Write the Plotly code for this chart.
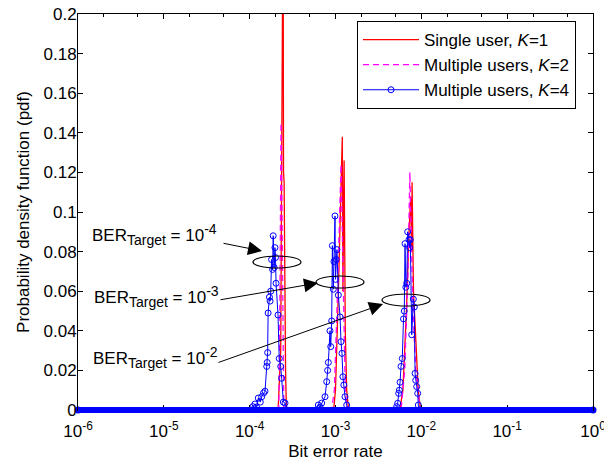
import math
import plotly.graph_objects as go

# ---------------- data ----------------
ber_k4 = [1.05e-4, 1.09e-4, 1.15e-4, 1.20e-4, 1.26e-4, 1.33e-4, 1.38e-4, 1.45e-4, 1.51e-4, 1.58e-4,
          1.60e-4, 1.62e-4, 1.64e-4, 1.70e-4, 1.73e-4, 1.76e-4, 1.80e-4, 1.85e-4, 1.88e-4, 1.93e-4,
          1.97e-4, 2.00e-4, 2.03e-4, 2.14e-4, 2.21e-4, 2.30e-4, 2.36e-4, 2.47e-4, 2.58e-4, 2.72e-4,
          6.0e-4, 6.31e-4, 6.6e-4, 6.9e-4, 7.55e-4, 7.9e-4, 8.1e-4, 8.25e-4, 8.63e-4, 8.8e-4,
          9.03e-4, 9.2e-4, 9.43e-4, 9.6e-4, 9.87e-4, 1.0e-3, 1.02e-3, 1.04e-3, 1.08e-3, 1.13e-3,
          1.16e-3, 1.19e-3, 1.22e-3, 1.25e-3, 1.29e-3, 1.35e-3, 1.40e-3,
          4.9e-3, 5.16e-3, 5.3e-3, 5.45e-3, 5.55e-3, 5.65e-3, 5.8e-3, 6.0e-3, 6.2e-3, 6.33e-3,
          6.46e-3, 6.6e-3, 6.76e-3, 6.93e-3, 7.18e-3, 7.3e-3, 7.44e-3, 7.73e-3, 8.07e-3, 8.28e-3,
          8.45e-3, 8.6e-3, 8.83e-3, 9.07e-3, 9.22e-3, 9.5e-3]
pdf_k4 = [0.0, 0.0017, 0.003, 0.0015, 0.006, 0.004, 0.0067, 0.0086, 0.0095, 0.022,
          0.024, 0.029, 0.049, 0.057, 0.055, 0.060, 0.076, 0.071, 0.088, 0.072,
          0.082, 0.077, 0.064, 0.048, 0.026, 0.022, 0.016, 0.004, 0.0035, 0.0,
          0.0, 0.0025, 0.0015, 0.0035, 0.0067, 0.0143, 0.020, 0.024, 0.040, 0.032,
          0.045, 0.083, 0.061, 0.075, 0.098, 0.066, 0.076, 0.081, 0.058, 0.047,
          0.0345, 0.0286, 0.0168, 0.0126, 0.0067, 0.0025, 0.0,
          0.0, 0.0017, 0.0034, 0.0084, 0.010, 0.014, 0.022, 0.026, 0.046, 0.050,
          0.084, 0.062, 0.064, 0.090, 0.086, 0.082, 0.086, 0.038, 0.056, 0.052,
          0.0185, 0.015, 0.0118, 0.0084, 0.0025, 0.0]

ber_k1 = [1.0e-6, 1.9e-4, 2.05e-4, 2.15e-4, 2.30e-4, 2.45e-4, 2.48e-4, 2.52e-4, 2.62e-4, 2.68e-4,
          9.5e-4, 1.0e-3, 1.08e-3, 1.14e-3, 1.20e-3, 1.22e-3, 1.26e-3, 1.30e-3, 1.35e-3, 1.42e-3,
          5.6e-3, 6.1e-3, 6.7e-3, 7.2e-3, 7.5e-3, 7.7e-3, 7.8e-3, 8.1e-3, 8.6e-3, 9.2e-3, 9.8e-3, 1.0]
pdf_k1 = [0.0, 0.0, 0.001, 0.001, 0.03, 0.26, 0.12, 0.115, 0.02, 0.0,
          0.0, 0.01, 0.06, 0.10, 0.138, 0.06, 0.126, 0.04, 0.01, 0.0,
          0.0, 0.01, 0.05, 0.09, 0.107, 0.08, 0.115, 0.06, 0.035, 0.01, 0.0, 0.0]

ber_k2 = [1.0e-6, 2.0e-4, 2.18e-4, 2.24e-4, 2.28e-4, 2.32e-4, 2.36e-4, 2.40e-4, 2.44e-4, 2.50e-4,
          9.0e-4, 9.7e-4, 1.04e-3, 1.10e-3, 1.16e-3, 1.20e-3, 1.24e-3, 1.30e-3, 1.36e-3,
          5.8e-3, 6.4e-3, 7.0e-3, 7.35e-3, 7.6e-3, 8.0e-3, 8.6e-3, 9.3e-3, 9.7e-3, 1.0]
pdf_k2 = [0.0, 0.0, 0.0, 0.04, 0.10, 0.145, 0.12, 0.08, 0.04, 0.0,
          0.0, 0.01, 0.05, 0.09, 0.124, 0.09, 0.05, 0.01, 0.0,
          0.0, 0.02, 0.07, 0.12, 0.09, 0.05, 0.02, 0.005, 0.0, 0.0]

# K=4 histogram is zero across the rest of the BER range (dense markers form a band)
baseline_ber = [1e-6, 1.0]
baseline_pdf = [0.0, 0.0]

x_range_log = [-6, 0]
y_range = [0, 0.2]
x_tickvals = [1e-6, 1e-5, 1e-4, 1e-3, 1e-2, 1e-1, 1e0]
x_ticktext = ["10<sup>-6</sup>", "10<sup>-5</sup>", "10<sup>-4</sup>", "10<sup>-3</sup>",
              "10<sup>-2</sup>", "10<sup>-1</sup>", "10<sup>0</sup>"]
target_labels = ["-4", "-3", "-2"]

# ---------------- layout helpers ----------------
W, H = 604, 463
L, R, T, B = 78, 593, 14, 410
def px(x):
    return (x - L) / (R - L)
def py(y):
    return (B - y) / (B - T)
def xdom(v):
    return (math.log10(v) - x_range_log[0]) / (x_range_log[1] - x_range_log[0])
def ydom(v):
    return (v - y_range[0]) / (y_range[1] - y_range[0])

FONT = "Liberation Sans, Arial, sans-serif"
BLUE = "rgb(0,0,255)"

fig = go.Figure()
fig.add_trace(go.Scatter(x=ber_k1, y=pdf_k1, mode="lines", name="Single user, <i>K</i>=1",
                         line=dict(color="rgb(255,0,0)", width=1.3)))
fig.add_trace(go.Scatter(x=ber_k2, y=pdf_k2, mode="lines", name="Multiple users, <i>K</i>=2",
                         line=dict(color="rgb(255,0,255)", width=1.3, dash="6px,4px")))
fig.add_trace(go.Scatter(x=ber_k4, y=pdf_k4, mode="lines+markers", name="Multiple users, <i>K</i>=4",
                         line=dict(color=BLUE, width=1),
                         marker=dict(symbol="circle-open", size=6, color=BLUE, line=dict(width=1))))
fig.add_trace(go.Scatter(x=baseline_ber, y=baseline_pdf, mode="lines+markers", showlegend=False,
                         line=dict(color=BLUE, width=6),
                         marker=dict(symbol="circle", size=7, color=BLUE),
                         cliponaxis=False, hoverinfo="skip"))
# zero band of the K=4 series, drawn unclipped so it straddles the x axis like the original
fig.add_shape(type="line", xref="x domain", yref="y domain",
              x0=xdom(baseline_ber[0]), x1=xdom(baseline_ber[-1]),
              y0=ydom(baseline_pdf[0]), y1=ydom(baseline_pdf[-1]),
              line=dict(color=BLUE, width=6), layer="above")

# text annotations
text_pos = [(90, 234), (92, 296), (91, 357)]
for (tx, ty), lab in zip(text_pos, target_labels):
    fig.add_annotation(xref="paper", yref="paper", x=px(tx), y=py(ty), xanchor="left", yanchor="middle",
                       text=("BER<sub><span style='font-size:14px'>Target</span></sub> = 10"
                             "<sup><span style='font-size:14px'>" + lab + "</span></sup>"),
                       showarrow=False, font=dict(family=FONT, size=17, color="black"))

# arrows (tip, tail) in pixels
arrows = [((262, 251), (222, 243)), ((318, 283), (219, 300)), ((383, 304), (217, 363))]
for (hx, hy), (tx, ty) in arrows:
    fig.add_annotation(xref="paper", yref="paper", x=px(hx), y=py(hy), ax=tx - hx, ay=ty - hy,
                       axref="pixel", ayref="pixel", text="", showarrow=True,
                       arrowhead=2, arrowsize=2.8, arrowwidth=1, arrowcolor="black", standoff=0)

# ellipses (center x, center y, half width, half height) in pixels
ellipses = [(277, 262, 24, 6), (340, 282, 24, 6), (406, 300, 24, 6)]
for cx, cy, rx, ry in ellipses:
    fig.add_shape(type="circle", xref="paper", yref="paper",
                  x0=px(cx - rx), x1=px(cx + rx), y0=py(cy + ry), y1=py(cy - ry),
                  line=dict(color="black", width=1.2))

fig.update_layout(
    width=W, height=H,
    margin=dict(l=L, r=W - R, t=T, b=H - B, autoexpand=False),
    paper_bgcolor="white", plot_bgcolor="white",
    font=dict(family=FONT, size=17, color="black"),
    showlegend=True,
    legend=dict(x=px(357), y=py(21), xanchor="left", yanchor="top",
                bgcolor="white", bordercolor="black", borderwidth=1,
                font=dict(family=FONT, size=17, color="black"),
                itemwidth=56, tracegroupgap=0),
    xaxis=dict(type="log", range=x_range_log, tickvals=x_tickvals, ticktext=x_ticktext,
               ticks="inside", ticklen=5, tickcolor="black", showgrid=False, zeroline=False,
               showline=True, linecolor="black", linewidth=1, mirror="ticks",
               minor=dict(ticks="inside", ticklen=3, tickcolor="black", showgrid=False),
               ticklabelstandoff=6, automargin=False, ticklabeloverflow="allow",
               title=dict(text="Bit error rate", font=dict(size=17), standoff=4),
               tickfont=dict(size=17)),
    yaxis=dict(range=y_range, dtick=0.02, tick0=0, ticks="inside", ticklen=5, tickcolor="black",
               showgrid=False, zeroline=False, showline=True, linecolor="black", linewidth=1,
               mirror="ticks", ticklabelstandoff=-3, automargin=False, ticklabeloverflow="allow",
               title=dict(text="Probability density function (pdf)", font=dict(size=17), standoff=9),
               tickfont=dict(size=17)),
)

fig.write_html("out.html", post_script="document.body.style.margin='0px';",
               config={"displayModeBar": False})
